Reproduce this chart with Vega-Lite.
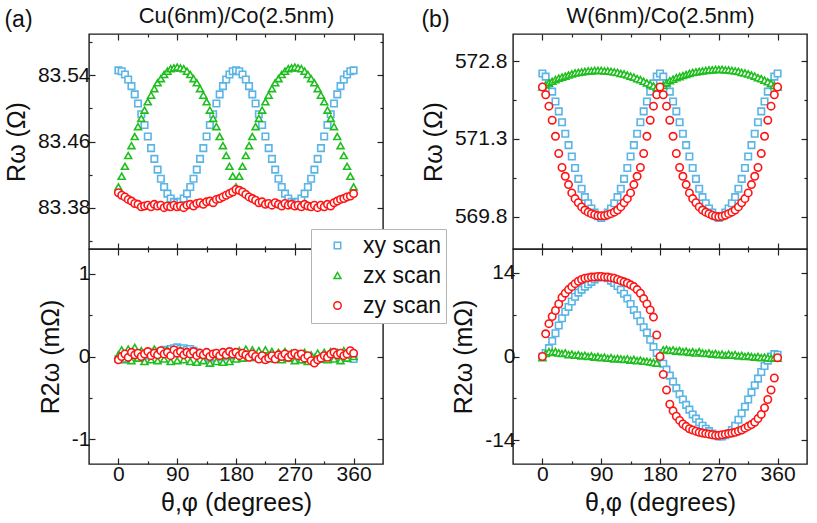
{
"$schema": "https://vega.github.io/schema/vega-lite/v6.json",
"padding": {"left": 3, "top": 3, "right": 4, "bottom": 4},
"background": "white",
"data": {"name": "d"},
"datasets": {"d": [
{"p":"a1","s":"xy scan","t":0,"v":83.546},{"p":"a1","s":"xy scan","t":5,"v":83.545},{"p":"a1","s":"xy scan","t":10,"v":83.541},{"p":"a1","s":"xy scan","t":15,"v":83.535},{"p":"a1","s":"xy scan","t":20,"v":83.527},{"p":"a1","s":"xy scan","t":25,"v":83.517},{"p":"a1","s":"xy scan","t":30,"v":83.506},{"p":"a1","s":"xy scan","t":35,"v":83.493},{"p":"a1","s":"xy scan","t":40,"v":83.480},{"p":"a1","s":"xy scan","t":45,"v":83.466},{"p":"a1","s":"xy scan","t":50,"v":83.452},{"p":"a1","s":"xy scan","t":55,"v":83.439},{"p":"a1","s":"xy scan","t":60,"v":83.426},{"p":"a1","s":"xy scan","t":65,"v":83.415},{"p":"a1","s":"xy scan","t":70,"v":83.405},{"p":"a1","s":"xy scan","t":75,"v":83.397},{"p":"a1","s":"xy scan","t":80,"v":83.391},{"p":"a1","s":"xy scan","t":85,"v":83.387},{"p":"a1","s":"xy scan","t":90,"v":83.386},{"p":"a1","s":"xy scan","t":95,"v":83.387},{"p":"a1","s":"xy scan","t":100,"v":83.391},{"p":"a1","s":"xy scan","t":105,"v":83.397},{"p":"a1","s":"xy scan","t":110,"v":83.405},{"p":"a1","s":"xy scan","t":115,"v":83.415},{"p":"a1","s":"xy scan","t":120,"v":83.426},{"p":"a1","s":"xy scan","t":125,"v":83.439},{"p":"a1","s":"xy scan","t":130,"v":83.452},{"p":"a1","s":"xy scan","t":135,"v":83.466},{"p":"a1","s":"xy scan","t":140,"v":83.480},{"p":"a1","s":"xy scan","t":145,"v":83.493},{"p":"a1","s":"xy scan","t":150,"v":83.506},{"p":"a1","s":"xy scan","t":155,"v":83.517},{"p":"a1","s":"xy scan","t":160,"v":83.527},{"p":"a1","s":"xy scan","t":165,"v":83.535},{"p":"a1","s":"xy scan","t":170,"v":83.541},{"p":"a1","s":"xy scan","t":175,"v":83.545},{"p":"a1","s":"xy scan","t":180,"v":83.546},{"p":"a1","s":"xy scan","t":185,"v":83.545},{"p":"a1","s":"xy scan","t":190,"v":83.541},{"p":"a1","s":"xy scan","t":195,"v":83.535},{"p":"a1","s":"xy scan","t":200,"v":83.527},{"p":"a1","s":"xy scan","t":205,"v":83.517},{"p":"a1","s":"xy scan","t":210,"v":83.506},{"p":"a1","s":"xy scan","t":215,"v":83.493},{"p":"a1","s":"xy scan","t":220,"v":83.480},{"p":"a1","s":"xy scan","t":225,"v":83.466},{"p":"a1","s":"xy scan","t":230,"v":83.452},{"p":"a1","s":"xy scan","t":235,"v":83.439},{"p":"a1","s":"xy scan","t":240,"v":83.426},{"p":"a1","s":"xy scan","t":245,"v":83.415},{"p":"a1","s":"xy scan","t":250,"v":83.405},{"p":"a1","s":"xy scan","t":255,"v":83.397},{"p":"a1","s":"xy scan","t":260,"v":83.391},{"p":"a1","s":"xy scan","t":265,"v":83.387},{"p":"a1","s":"xy scan","t":270,"v":83.386},{"p":"a1","s":"xy scan","t":275,"v":83.387},{"p":"a1","s":"xy scan","t":280,"v":83.391},{"p":"a1","s":"xy scan","t":285,"v":83.397},{"p":"a1","s":"xy scan","t":290,"v":83.405},{"p":"a1","s":"xy scan","t":295,"v":83.415},{"p":"a1","s":"xy scan","t":300,"v":83.426},{"p":"a1","s":"xy scan","t":305,"v":83.439},{"p":"a1","s":"xy scan","t":310,"v":83.452},{"p":"a1","s":"xy scan","t":315,"v":83.466},{"p":"a1","s":"xy scan","t":320,"v":83.480},{"p":"a1","s":"xy scan","t":325,"v":83.493},{"p":"a1","s":"xy scan","t":330,"v":83.506},{"p":"a1","s":"xy scan","t":335,"v":83.517},{"p":"a1","s":"xy scan","t":340,"v":83.527},{"p":"a1","s":"xy scan","t":345,"v":83.535},{"p":"a1","s":"xy scan","t":350,"v":83.541},{"p":"a1","s":"xy scan","t":355,"v":83.545},{"p":"a1","s":"xy scan","t":360,"v":83.546},
{"p":"a1","s":"zx scan","t":0,"v":83.405},{"p":"a1","s":"zx scan","t":5,"v":83.418},{"p":"a1","s":"zx scan","t":10,"v":83.430},{"p":"a1","s":"zx scan","t":15,"v":83.443},{"p":"a1","s":"zx scan","t":20,"v":83.455},{"p":"a1","s":"zx scan","t":25,"v":83.466},{"p":"a1","s":"zx scan","t":30,"v":83.478},{"p":"a1","s":"zx scan","t":35,"v":83.488},{"p":"a1","s":"zx scan","t":40,"v":83.498},{"p":"a1","s":"zx scan","t":45,"v":83.508},{"p":"a1","s":"zx scan","t":50,"v":83.516},{"p":"a1","s":"zx scan","t":55,"v":83.524},{"p":"a1","s":"zx scan","t":60,"v":83.531},{"p":"a1","s":"zx scan","t":65,"v":83.536},{"p":"a1","s":"zx scan","t":70,"v":83.541},{"p":"a1","s":"zx scan","t":75,"v":83.545},{"p":"a1","s":"zx scan","t":80,"v":83.548},{"p":"a1","s":"zx scan","t":85,"v":83.549},{"p":"a1","s":"zx scan","t":90,"v":83.550},{"p":"a1","s":"zx scan","t":95,"v":83.549},{"p":"a1","s":"zx scan","t":100,"v":83.548},{"p":"a1","s":"zx scan","t":105,"v":83.545},{"p":"a1","s":"zx scan","t":110,"v":83.541},{"p":"a1","s":"zx scan","t":115,"v":83.536},{"p":"a1","s":"zx scan","t":120,"v":83.531},{"p":"a1","s":"zx scan","t":125,"v":83.524},{"p":"a1","s":"zx scan","t":130,"v":83.516},{"p":"a1","s":"zx scan","t":135,"v":83.508},{"p":"a1","s":"zx scan","t":140,"v":83.498},{"p":"a1","s":"zx scan","t":145,"v":83.488},{"p":"a1","s":"zx scan","t":150,"v":83.478},{"p":"a1","s":"zx scan","t":155,"v":83.466},{"p":"a1","s":"zx scan","t":160,"v":83.455},{"p":"a1","s":"zx scan","t":165,"v":83.443},{"p":"a1","s":"zx scan","t":170,"v":83.430},{"p":"a1","s":"zx scan","t":175,"v":83.418},{"p":"a1","s":"zx scan","t":180,"v":83.405},{"p":"a1","s":"zx scan","t":185,"v":83.418},{"p":"a1","s":"zx scan","t":190,"v":83.430},{"p":"a1","s":"zx scan","t":195,"v":83.443},{"p":"a1","s":"zx scan","t":200,"v":83.455},{"p":"a1","s":"zx scan","t":205,"v":83.466},{"p":"a1","s":"zx scan","t":210,"v":83.478},{"p":"a1","s":"zx scan","t":215,"v":83.488},{"p":"a1","s":"zx scan","t":220,"v":83.498},{"p":"a1","s":"zx scan","t":225,"v":83.508},{"p":"a1","s":"zx scan","t":230,"v":83.516},{"p":"a1","s":"zx scan","t":235,"v":83.524},{"p":"a1","s":"zx scan","t":240,"v":83.531},{"p":"a1","s":"zx scan","t":245,"v":83.536},{"p":"a1","s":"zx scan","t":250,"v":83.541},{"p":"a1","s":"zx scan","t":255,"v":83.545},{"p":"a1","s":"zx scan","t":260,"v":83.548},{"p":"a1","s":"zx scan","t":265,"v":83.549},{"p":"a1","s":"zx scan","t":270,"v":83.550},{"p":"a1","s":"zx scan","t":275,"v":83.549},{"p":"a1","s":"zx scan","t":280,"v":83.548},{"p":"a1","s":"zx scan","t":285,"v":83.545},{"p":"a1","s":"zx scan","t":290,"v":83.541},{"p":"a1","s":"zx scan","t":295,"v":83.536},{"p":"a1","s":"zx scan","t":300,"v":83.531},{"p":"a1","s":"zx scan","t":305,"v":83.524},{"p":"a1","s":"zx scan","t":310,"v":83.516},{"p":"a1","s":"zx scan","t":315,"v":83.508},{"p":"a1","s":"zx scan","t":320,"v":83.498},{"p":"a1","s":"zx scan","t":325,"v":83.488},{"p":"a1","s":"zx scan","t":330,"v":83.478},{"p":"a1","s":"zx scan","t":335,"v":83.466},{"p":"a1","s":"zx scan","t":340,"v":83.455},{"p":"a1","s":"zx scan","t":345,"v":83.443},{"p":"a1","s":"zx scan","t":350,"v":83.430},{"p":"a1","s":"zx scan","t":355,"v":83.418},{"p":"a1","s":"zx scan","t":360,"v":83.405},
{"p":"a1","s":"zy scan","t":0,"v":83.398},{"p":"a1","s":"zy scan","t":5,"v":83.395},{"p":"a1","s":"zy scan","t":10,"v":83.393},{"p":"a1","s":"zy scan","t":15,"v":83.390},{"p":"a1","s":"zy scan","t":20,"v":83.388},{"p":"a1","s":"zy scan","t":25,"v":83.385},{"p":"a1","s":"zy scan","t":30,"v":83.384},{"p":"a1","s":"zy scan","t":35,"v":83.381},{"p":"a1","s":"zy scan","t":40,"v":83.382},{"p":"a1","s":"zy scan","t":45,"v":83.383},{"p":"a1","s":"zy scan","t":50,"v":83.381},{"p":"a1","s":"zy scan","t":55,"v":83.384},{"p":"a1","s":"zy scan","t":60,"v":83.382},{"p":"a1","s":"zy scan","t":65,"v":83.383},{"p":"a1","s":"zy scan","t":70,"v":83.380},{"p":"a1","s":"zy scan","t":75,"v":83.382},{"p":"a1","s":"zy scan","t":80,"v":83.381},{"p":"a1","s":"zy scan","t":85,"v":83.383},{"p":"a1","s":"zy scan","t":90,"v":83.381},{"p":"a1","s":"zy scan","t":95,"v":83.382},{"p":"a1","s":"zy scan","t":100,"v":83.380},{"p":"a1","s":"zy scan","t":105,"v":83.383},{"p":"a1","s":"zy scan","t":110,"v":83.384},{"p":"a1","s":"zy scan","t":115,"v":83.382},{"p":"a1","s":"zy scan","t":120,"v":83.385},{"p":"a1","s":"zy scan","t":125,"v":83.386},{"p":"a1","s":"zy scan","t":130,"v":83.384},{"p":"a1","s":"zy scan","t":135,"v":83.387},{"p":"a1","s":"zy scan","t":140,"v":83.388},{"p":"a1","s":"zy scan","t":145,"v":83.386},{"p":"a1","s":"zy scan","t":150,"v":83.390},{"p":"a1","s":"zy scan","t":155,"v":83.391},{"p":"a1","s":"zy scan","t":160,"v":83.393},{"p":"a1","s":"zy scan","t":165,"v":83.395},{"p":"a1","s":"zy scan","t":170,"v":83.397},{"p":"a1","s":"zy scan","t":175,"v":83.399},{"p":"a1","s":"zy scan","t":180,"v":83.402},{"p":"a1","s":"zy scan","t":185,"v":83.401},{"p":"a1","s":"zy scan","t":190,"v":83.399},{"p":"a1","s":"zy scan","t":195,"v":83.396},{"p":"a1","s":"zy scan","t":200,"v":83.393},{"p":"a1","s":"zy scan","t":205,"v":83.391},{"p":"a1","s":"zy scan","t":210,"v":83.389},{"p":"a1","s":"zy scan","t":215,"v":83.386},{"p":"a1","s":"zy scan","t":220,"v":83.387},{"p":"a1","s":"zy scan","t":225,"v":83.384},{"p":"a1","s":"zy scan","t":230,"v":83.385},{"p":"a1","s":"zy scan","t":235,"v":83.383},{"p":"a1","s":"zy scan","t":240,"v":83.386},{"p":"a1","s":"zy scan","t":245,"v":83.384},{"p":"a1","s":"zy scan","t":250,"v":83.382},{"p":"a1","s":"zy scan","t":255,"v":83.385},{"p":"a1","s":"zy scan","t":260,"v":83.383},{"p":"a1","s":"zy scan","t":265,"v":83.384},{"p":"a1","s":"zy scan","t":270,"v":83.382},{"p":"a1","s":"zy scan","t":275,"v":83.383},{"p":"a1","s":"zy scan","t":280,"v":83.381},{"p":"a1","s":"zy scan","t":285,"v":83.384},{"p":"a1","s":"zy scan","t":290,"v":83.382},{"p":"a1","s":"zy scan","t":295,"v":83.381},{"p":"a1","s":"zy scan","t":300,"v":83.383},{"p":"a1","s":"zy scan","t":305,"v":83.380},{"p":"a1","s":"zy scan","t":310,"v":83.383},{"p":"a1","s":"zy scan","t":315,"v":83.381},{"p":"a1","s":"zy scan","t":320,"v":83.384},{"p":"a1","s":"zy scan","t":325,"v":83.382},{"p":"a1","s":"zy scan","t":330,"v":83.386},{"p":"a1","s":"zy scan","t":335,"v":83.388},{"p":"a1","s":"zy scan","t":340,"v":83.390},{"p":"a1","s":"zy scan","t":345,"v":83.391},{"p":"a1","s":"zy scan","t":350,"v":83.393},{"p":"a1","s":"zy scan","t":355,"v":83.394},{"p":"a1","s":"zy scan","t":360,"v":83.397},
{"p":"a2","s":"xy scan","t":0,"v":-0.03},{"p":"a2","s":"xy scan","t":5,"v":0.02},{"p":"a2","s":"xy scan","t":10,"v":-0.04},{"p":"a2","s":"xy scan","t":15,"v":0.01},{"p":"a2","s":"xy scan","t":20,"v":-0.02},{"p":"a2","s":"xy scan","t":25,"v":0.03},{"p":"a2","s":"xy scan","t":30,"v":0.0},{"p":"a2","s":"xy scan","t":35,"v":0.02},{"p":"a2","s":"xy scan","t":40,"v":0.04},{"p":"a2","s":"xy scan","t":45,"v":0.01},{"p":"a2","s":"xy scan","t":50,"v":0.05},{"p":"a2","s":"xy scan","t":55,"v":0.03},{"p":"a2","s":"xy scan","t":60,"v":0.06},{"p":"a2","s":"xy scan","t":65,"v":0.04},{"p":"a2","s":"xy scan","t":70,"v":0.08},{"p":"a2","s":"xy scan","t":75,"v":0.07},{"p":"a2","s":"xy scan","t":80,"v":0.09},{"p":"a2","s":"xy scan","t":85,"v":0.10},{"p":"a2","s":"xy scan","t":90,"v":0.11},{"p":"a2","s":"xy scan","t":95,"v":0.09},{"p":"a2","s":"xy scan","t":100,"v":0.10},{"p":"a2","s":"xy scan","t":105,"v":0.08},{"p":"a2","s":"xy scan","t":110,"v":0.09},{"p":"a2","s":"xy scan","t":115,"v":0.07},{"p":"a2","s":"xy scan","t":120,"v":0.05},{"p":"a2","s":"xy scan","t":125,"v":0.03},{"p":"a2","s":"xy scan","t":130,"v":0.02},{"p":"a2","s":"xy scan","t":135,"v":0.0},{"p":"a2","s":"xy scan","t":140,"v":-0.02},{"p":"a2","s":"xy scan","t":145,"v":0.01},{"p":"a2","s":"xy scan","t":150,"v":-0.01},{"p":"a2","s":"xy scan","t":155,"v":0.02},{"p":"a2","s":"xy scan","t":160,"v":0.0},{"p":"a2","s":"xy scan","t":165,"v":0.03},{"p":"a2","s":"xy scan","t":170,"v":0.01},{"p":"a2","s":"xy scan","t":175,"v":0.04},{"p":"a2","s":"xy scan","t":180,"v":0.02},{"p":"a2","s":"xy scan","t":185,"v":0.0},{"p":"a2","s":"xy scan","t":190,"v":0.03},{"p":"a2","s":"xy scan","t":195,"v":0.01},{"p":"a2","s":"xy scan","t":200,"v":0.02},{"p":"a2","s":"xy scan","t":205,"v":-0.01},{"p":"a2","s":"xy scan","t":210,"v":0.01},{"p":"a2","s":"xy scan","t":215,"v":-0.02},{"p":"a2","s":"xy scan","t":220,"v":0.0},{"p":"a2","s":"xy scan","t":225,"v":-0.03},{"p":"a2","s":"xy scan","t":230,"v":-0.01},{"p":"a2","s":"xy scan","t":235,"v":0.01},{"p":"a2","s":"xy scan","t":240,"v":-0.02},{"p":"a2","s":"xy scan","t":245,"v":0.0},{"p":"a2","s":"xy scan","t":250,"v":-0.03},{"p":"a2","s":"xy scan","t":255,"v":-0.01},{"p":"a2","s":"xy scan","t":260,"v":0.02},{"p":"a2","s":"xy scan","t":265,"v":-0.02},{"p":"a2","s":"xy scan","t":270,"v":0.0},{"p":"a2","s":"xy scan","t":275,"v":-0.03},{"p":"a2","s":"xy scan","t":280,"v":-0.01},{"p":"a2","s":"xy scan","t":285,"v":-0.04},{"p":"a2","s":"xy scan","t":290,"v":-0.02},{"p":"a2","s":"xy scan","t":295,"v":-0.05},{"p":"a2","s":"xy scan","t":300,"v":-0.03},{"p":"a2","s":"xy scan","t":305,"v":-0.01},{"p":"a2","s":"xy scan","t":310,"v":-0.03},{"p":"a2","s":"xy scan","t":315,"v":0.0},{"p":"a2","s":"xy scan","t":320,"v":-0.02},{"p":"a2","s":"xy scan","t":325,"v":0.01},{"p":"a2","s":"xy scan","t":330,"v":-0.01},{"p":"a2","s":"xy scan","t":335,"v":0.02},{"p":"a2","s":"xy scan","t":340,"v":0.0},{"p":"a2","s":"xy scan","t":345,"v":0.03},{"p":"a2","s":"xy scan","t":350,"v":0.01},{"p":"a2","s":"xy scan","t":355,"v":-0.02},{"p":"a2","s":"xy scan","t":360,"v":-0.03},
{"p":"a2","s":"zx scan","t":0,"v":0.02},{"p":"a2","s":"zx scan","t":5,"v":0.08},{"p":"a2","s":"zx scan","t":10,"v":-0.03},{"p":"a2","s":"zx scan","t":15,"v":0.09},{"p":"a2","s":"zx scan","t":20,"v":-0.05},{"p":"a2","s":"zx scan","t":25,"v":0.11},{"p":"a2","s":"zx scan","t":30,"v":-0.02},{"p":"a2","s":"zx scan","t":35,"v":0.07},{"p":"a2","s":"zx scan","t":40,"v":-0.06},{"p":"a2","s":"zx scan","t":45,"v":0.05},{"p":"a2","s":"zx scan","t":50,"v":-0.04},{"p":"a2","s":"zx scan","t":55,"v":0.09},{"p":"a2","s":"zx scan","t":60,"v":-0.05},{"p":"a2","s":"zx scan","t":65,"v":0.06},{"p":"a2","s":"zx scan","t":70,"v":-0.03},{"p":"a2","s":"zx scan","t":75,"v":0.08},{"p":"a2","s":"zx scan","t":80,"v":-0.06},{"p":"a2","s":"zx scan","t":85,"v":0.04},{"p":"a2","s":"zx scan","t":90,"v":-0.05},{"p":"a2","s":"zx scan","t":95,"v":0.07},{"p":"a2","s":"zx scan","t":100,"v":-0.04},{"p":"a2","s":"zx scan","t":105,"v":0.05},{"p":"a2","s":"zx scan","t":110,"v":-0.06},{"p":"a2","s":"zx scan","t":115,"v":0.03},{"p":"a2","s":"zx scan","t":120,"v":-0.07},{"p":"a2","s":"zx scan","t":125,"v":0.04},{"p":"a2","s":"zx scan","t":130,"v":-0.05},{"p":"a2","s":"zx scan","t":135,"v":0.02},{"p":"a2","s":"zx scan","t":140,"v":-0.08},{"p":"a2","s":"zx scan","t":145,"v":0.03},{"p":"a2","s":"zx scan","t":150,"v":-0.06},{"p":"a2","s":"zx scan","t":155,"v":0.01},{"p":"a2","s":"zx scan","t":160,"v":-0.07},{"p":"a2","s":"zx scan","t":165,"v":0.02},{"p":"a2","s":"zx scan","t":170,"v":-0.06},{"p":"a2","s":"zx scan","t":175,"v":0.04},{"p":"a2","s":"zx scan","t":180,"v":-0.03},{"p":"a2","s":"zx scan","t":185,"v":0.07},{"p":"a2","s":"zx scan","t":190,"v":-0.02},{"p":"a2","s":"zx scan","t":195,"v":0.09},{"p":"a2","s":"zx scan","t":200,"v":-0.01},{"p":"a2","s":"zx scan","t":205,"v":0.08},{"p":"a2","s":"zx scan","t":210,"v":0.0},{"p":"a2","s":"zx scan","t":215,"v":0.07},{"p":"a2","s":"zx scan","t":220,"v":-0.02},{"p":"a2","s":"zx scan","t":225,"v":0.08},{"p":"a2","s":"zx scan","t":230,"v":-0.01},{"p":"a2","s":"zx scan","t":235,"v":0.06},{"p":"a2","s":"zx scan","t":240,"v":-0.03},{"p":"a2","s":"zx scan","t":245,"v":0.05},{"p":"a2","s":"zx scan","t":250,"v":-0.04},{"p":"a2","s":"zx scan","t":255,"v":0.06},{"p":"a2","s":"zx scan","t":260,"v":-0.02},{"p":"a2","s":"zx scan","t":265,"v":0.04},{"p":"a2","s":"zx scan","t":270,"v":-0.05},{"p":"a2","s":"zx scan","t":275,"v":0.03},{"p":"a2","s":"zx scan","t":280,"v":-0.04},{"p":"a2","s":"zx scan","t":285,"v":0.05},{"p":"a2","s":"zx scan","t":290,"v":-0.06},{"p":"a2","s":"zx scan","t":295,"v":0.02},{"p":"a2","s":"zx scan","t":300,"v":-0.05},{"p":"a2","s":"zx scan","t":305,"v":0.04},{"p":"a2","s":"zx scan","t":310,"v":-0.03},{"p":"a2","s":"zx scan","t":315,"v":0.05},{"p":"a2","s":"zx scan","t":320,"v":-0.04},{"p":"a2","s":"zx scan","t":325,"v":0.06},{"p":"a2","s":"zx scan","t":330,"v":-0.03},{"p":"a2","s":"zx scan","t":335,"v":0.05},{"p":"a2","s":"zx scan","t":340,"v":-0.05},{"p":"a2","s":"zx scan","t":345,"v":0.07},{"p":"a2","s":"zx scan","t":350,"v":-0.02},{"p":"a2","s":"zx scan","t":355,"v":0.06},{"p":"a2","s":"zx scan","t":360,"v":0.0},
{"p":"a2","s":"zy scan","t":0,"v":-0.04},{"p":"a2","s":"zy scan","t":5,"v":0.0},{"p":"a2","s":"zy scan","t":10,"v":0.03},{"p":"a2","s":"zy scan","t":15,"v":-0.01},{"p":"a2","s":"zy scan","t":20,"v":0.05},{"p":"a2","s":"zy scan","t":25,"v":0.02},{"p":"a2","s":"zy scan","t":30,"v":0.04},{"p":"a2","s":"zy scan","t":35,"v":0.0},{"p":"a2","s":"zy scan","t":40,"v":0.03},{"p":"a2","s":"zy scan","t":45,"v":0.06},{"p":"a2","s":"zy scan","t":50,"v":0.01},{"p":"a2","s":"zy scan","t":55,"v":0.04},{"p":"a2","s":"zy scan","t":60,"v":0.02},{"p":"a2","s":"zy scan","t":65,"v":0.07},{"p":"a2","s":"zy scan","t":70,"v":0.03},{"p":"a2","s":"zy scan","t":75,"v":0.05},{"p":"a2","s":"zy scan","t":80,"v":0.01},{"p":"a2","s":"zy scan","t":85,"v":0.08},{"p":"a2","s":"zy scan","t":90,"v":0.04},{"p":"a2","s":"zy scan","t":95,"v":0.06},{"p":"a2","s":"zy scan","t":100,"v":0.02},{"p":"a2","s":"zy scan","t":105,"v":0.05},{"p":"a2","s":"zy scan","t":110,"v":0.03},{"p":"a2","s":"zy scan","t":115,"v":0.06},{"p":"a2","s":"zy scan","t":120,"v":0.01},{"p":"a2","s":"zy scan","t":125,"v":0.04},{"p":"a2","s":"zy scan","t":130,"v":0.02},{"p":"a2","s":"zy scan","t":135,"v":0.05},{"p":"a2","s":"zy scan","t":140,"v":0.0},{"p":"a2","s":"zy scan","t":145,"v":0.03},{"p":"a2","s":"zy scan","t":150,"v":0.04},{"p":"a2","s":"zy scan","t":155,"v":0.01},{"p":"a2","s":"zy scan","t":160,"v":0.05},{"p":"a2","s":"zy scan","t":165,"v":0.02},{"p":"a2","s":"zy scan","t":170,"v":0.06},{"p":"a2","s":"zy scan","t":175,"v":0.03},{"p":"a2","s":"zy scan","t":180,"v":0.05},{"p":"a2","s":"zy scan","t":185,"v":0.01},{"p":"a2","s":"zy scan","t":190,"v":0.04},{"p":"a2","s":"zy scan","t":195,"v":0.02},{"p":"a2","s":"zy scan","t":200,"v":-0.01},{"p":"a2","s":"zy scan","t":205,"v":0.03},{"p":"a2","s":"zy scan","t":210,"v":0.0},{"p":"a2","s":"zy scan","t":215,"v":-0.03},{"p":"a2","s":"zy scan","t":220,"v":0.01},{"p":"a2","s":"zy scan","t":225,"v":-0.04},{"p":"a2","s":"zy scan","t":230,"v":-0.02},{"p":"a2","s":"zy scan","t":235,"v":0.01},{"p":"a2","s":"zy scan","t":240,"v":-0.03},{"p":"a2","s":"zy scan","t":245,"v":0.02},{"p":"a2","s":"zy scan","t":250,"v":0.0},{"p":"a2","s":"zy scan","t":255,"v":0.03},{"p":"a2","s":"zy scan","t":260,"v":-0.01},{"p":"a2","s":"zy scan","t":265,"v":0.02},{"p":"a2","s":"zy scan","t":270,"v":0.04},{"p":"a2","s":"zy scan","t":275,"v":0.01},{"p":"a2","s":"zy scan","t":280,"v":0.03},{"p":"a2","s":"zy scan","t":285,"v":-0.02},{"p":"a2","s":"zy scan","t":290,"v":0.01},{"p":"a2","s":"zy scan","t":295,"v":-0.05},{"p":"a2","s":"zy scan","t":300,"v":-0.08},{"p":"a2","s":"zy scan","t":305,"v":-0.04},{"p":"a2","s":"zy scan","t":310,"v":-0.02},{"p":"a2","s":"zy scan","t":315,"v":0.01},{"p":"a2","s":"zy scan","t":320,"v":-0.01},{"p":"a2","s":"zy scan","t":325,"v":0.03},{"p":"a2","s":"zy scan","t":330,"v":0.05},{"p":"a2","s":"zy scan","t":335,"v":0.02},{"p":"a2","s":"zy scan","t":340,"v":0.04},{"p":"a2","s":"zy scan","t":345,"v":0.01},{"p":"a2","s":"zy scan","t":350,"v":0.03},{"p":"a2","s":"zy scan","t":355,"v":0.07},{"p":"a2","s":"zy scan","t":360,"v":0.04},
{"p":"b1","s":"xy scan","t":0,"v":572.56},{"p":"b1","s":"xy scan","t":5,"v":572.50},{"p":"b1","s":"xy scan","t":10,"v":572.37},{"p":"b1","s":"xy scan","t":15,"v":572.21},{"p":"b1","s":"xy scan","t":20,"v":572.02},{"p":"b1","s":"xy scan","t":25,"v":571.83},{"p":"b1","s":"xy scan","t":30,"v":571.62},{"p":"b1","s":"xy scan","t":35,"v":571.40},{"p":"b1","s":"xy scan","t":40,"v":571.18},{"p":"b1","s":"xy scan","t":45,"v":570.96},{"p":"b1","s":"xy scan","t":50,"v":570.74},{"p":"b1","s":"xy scan","t":55,"v":570.53},{"p":"b1","s":"xy scan","t":60,"v":570.34},{"p":"b1","s":"xy scan","t":65,"v":570.18},{"p":"b1","s":"xy scan","t":70,"v":570.06},{"p":"b1","s":"xy scan","t":75,"v":569.96},{"p":"b1","s":"xy scan","t":80,"v":569.88},{"p":"b1","s":"xy scan","t":85,"v":569.81},{"p":"b1","s":"xy scan","t":90,"v":569.78},{"p":"b1","s":"xy scan","t":95,"v":569.81},{"p":"b1","s":"xy scan","t":100,"v":569.88},{"p":"b1","s":"xy scan","t":105,"v":569.96},{"p":"b1","s":"xy scan","t":110,"v":570.06},{"p":"b1","s":"xy scan","t":115,"v":570.18},{"p":"b1","s":"xy scan","t":120,"v":570.34},{"p":"b1","s":"xy scan","t":125,"v":570.53},{"p":"b1","s":"xy scan","t":130,"v":570.74},{"p":"b1","s":"xy scan","t":135,"v":570.96},{"p":"b1","s":"xy scan","t":140,"v":571.18},{"p":"b1","s":"xy scan","t":145,"v":571.40},{"p":"b1","s":"xy scan","t":150,"v":571.62},{"p":"b1","s":"xy scan","t":155,"v":571.83},{"p":"b1","s":"xy scan","t":160,"v":572.02},{"p":"b1","s":"xy scan","t":165,"v":572.21},{"p":"b1","s":"xy scan","t":170,"v":572.37},{"p":"b1","s":"xy scan","t":175,"v":572.50},{"p":"b1","s":"xy scan","t":180,"v":572.56},{"p":"b1","s":"xy scan","t":185,"v":572.50},{"p":"b1","s":"xy scan","t":190,"v":572.37},{"p":"b1","s":"xy scan","t":195,"v":572.21},{"p":"b1","s":"xy scan","t":200,"v":572.02},{"p":"b1","s":"xy scan","t":205,"v":571.83},{"p":"b1","s":"xy scan","t":210,"v":571.62},{"p":"b1","s":"xy scan","t":215,"v":571.40},{"p":"b1","s":"xy scan","t":220,"v":571.18},{"p":"b1","s":"xy scan","t":225,"v":570.96},{"p":"b1","s":"xy scan","t":230,"v":570.74},{"p":"b1","s":"xy scan","t":235,"v":570.53},{"p":"b1","s":"xy scan","t":240,"v":570.34},{"p":"b1","s":"xy scan","t":245,"v":570.18},{"p":"b1","s":"xy scan","t":250,"v":570.06},{"p":"b1","s":"xy scan","t":255,"v":569.96},{"p":"b1","s":"xy scan","t":260,"v":569.88},{"p":"b1","s":"xy scan","t":265,"v":569.81},{"p":"b1","s":"xy scan","t":270,"v":569.78},{"p":"b1","s":"xy scan","t":275,"v":569.81},{"p":"b1","s":"xy scan","t":280,"v":569.88},{"p":"b1","s":"xy scan","t":285,"v":569.96},{"p":"b1","s":"xy scan","t":290,"v":570.06},{"p":"b1","s":"xy scan","t":295,"v":570.18},{"p":"b1","s":"xy scan","t":300,"v":570.34},{"p":"b1","s":"xy scan","t":305,"v":570.53},{"p":"b1","s":"xy scan","t":310,"v":570.74},{"p":"b1","s":"xy scan","t":315,"v":570.96},{"p":"b1","s":"xy scan","t":320,"v":571.18},{"p":"b1","s":"xy scan","t":325,"v":571.40},{"p":"b1","s":"xy scan","t":330,"v":571.62},{"p":"b1","s":"xy scan","t":335,"v":571.83},{"p":"b1","s":"xy scan","t":340,"v":572.02},{"p":"b1","s":"xy scan","t":345,"v":572.21},{"p":"b1","s":"xy scan","t":350,"v":572.37},{"p":"b1","s":"xy scan","t":355,"v":572.50},{"p":"b1","s":"xy scan","t":360,"v":572.56},
{"p":"b1","s":"zx scan","t":0,"v":572.30},{"p":"b1","s":"zx scan","t":5,"v":572.34},{"p":"b1","s":"zx scan","t":10,"v":572.38},{"p":"b1","s":"zx scan","t":15,"v":572.41},{"p":"b1","s":"zx scan","t":20,"v":572.44},{"p":"b1","s":"zx scan","t":25,"v":572.47},{"p":"b1","s":"zx scan","t":30,"v":572.49},{"p":"b1","s":"zx scan","t":35,"v":572.51},{"p":"b1","s":"zx scan","t":40,"v":572.53},{"p":"b1","s":"zx scan","t":45,"v":572.55},{"p":"b1","s":"zx scan","t":50,"v":572.57},{"p":"b1","s":"zx scan","t":55,"v":572.58},{"p":"b1","s":"zx scan","t":60,"v":572.59},{"p":"b1","s":"zx scan","t":65,"v":572.60},{"p":"b1","s":"zx scan","t":70,"v":572.61},{"p":"b1","s":"zx scan","t":75,"v":572.61},{"p":"b1","s":"zx scan","t":80,"v":572.62},{"p":"b1","s":"zx scan","t":85,"v":572.62},{"p":"b1","s":"zx scan","t":90,"v":572.62},{"p":"b1","s":"zx scan","t":95,"v":572.61},{"p":"b1","s":"zx scan","t":100,"v":572.61},{"p":"b1","s":"zx scan","t":105,"v":572.60},{"p":"b1","s":"zx scan","t":110,"v":572.59},{"p":"b1","s":"zx scan","t":115,"v":572.58},{"p":"b1","s":"zx scan","t":120,"v":572.56},{"p":"b1","s":"zx scan","t":125,"v":572.55},{"p":"b1","s":"zx scan","t":130,"v":572.53},{"p":"b1","s":"zx scan","t":135,"v":572.51},{"p":"b1","s":"zx scan","t":140,"v":572.49},{"p":"b1","s":"zx scan","t":145,"v":572.46},{"p":"b1","s":"zx scan","t":150,"v":572.44},{"p":"b1","s":"zx scan","t":155,"v":572.41},{"p":"b1","s":"zx scan","t":160,"v":572.38},{"p":"b1","s":"zx scan","t":165,"v":572.35},{"p":"b1","s":"zx scan","t":170,"v":572.32},{"p":"b1","s":"zx scan","t":175,"v":572.29},{"p":"b1","s":"zx scan","t":180,"v":572.26},{"p":"b1","s":"zx scan","t":185,"v":572.33},{"p":"b1","s":"zx scan","t":190,"v":572.38},{"p":"b1","s":"zx scan","t":195,"v":572.42},{"p":"b1","s":"zx scan","t":200,"v":572.45},{"p":"b1","s":"zx scan","t":205,"v":572.48},{"p":"b1","s":"zx scan","t":210,"v":572.50},{"p":"b1","s":"zx scan","t":215,"v":572.52},{"p":"b1","s":"zx scan","t":220,"v":572.54},{"p":"b1","s":"zx scan","t":225,"v":572.56},{"p":"b1","s":"zx scan","t":230,"v":572.58},{"p":"b1","s":"zx scan","t":235,"v":572.59},{"p":"b1","s":"zx scan","t":240,"v":572.60},{"p":"b1","s":"zx scan","t":245,"v":572.61},{"p":"b1","s":"zx scan","t":250,"v":572.62},{"p":"b1","s":"zx scan","t":255,"v":572.63},{"p":"b1","s":"zx scan","t":260,"v":572.63},{"p":"b1","s":"zx scan","t":265,"v":572.64},{"p":"b1","s":"zx scan","t":270,"v":572.64},{"p":"b1","s":"zx scan","t":275,"v":572.64},{"p":"b1","s":"zx scan","t":280,"v":572.63},{"p":"b1","s":"zx scan","t":285,"v":572.63},{"p":"b1","s":"zx scan","t":290,"v":572.62},{"p":"b1","s":"zx scan","t":295,"v":572.61},{"p":"b1","s":"zx scan","t":300,"v":572.60},{"p":"b1","s":"zx scan","t":305,"v":572.58},{"p":"b1","s":"zx scan","t":310,"v":572.57},{"p":"b1","s":"zx scan","t":315,"v":572.55},{"p":"b1","s":"zx scan","t":320,"v":572.53},{"p":"b1","s":"zx scan","t":325,"v":572.51},{"p":"b1","s":"zx scan","t":330,"v":572.48},{"p":"b1","s":"zx scan","t":335,"v":572.46},{"p":"b1","s":"zx scan","t":340,"v":572.43},{"p":"b1","s":"zx scan","t":345,"v":572.40},{"p":"b1","s":"zx scan","t":350,"v":572.37},{"p":"b1","s":"zx scan","t":355,"v":572.33},{"p":"b1","s":"zx scan","t":360,"v":572.30},
{"p":"b1","s":"zy scan","t":0,"v":572.30},{"p":"b1","s":"zy scan","t":5,"v":572.15},{"p":"b1","s":"zy scan","t":10,"v":571.93},{"p":"b1","s":"zy scan","t":15,"v":571.66},{"p":"b1","s":"zy scan","t":20,"v":571.35},{"p":"b1","s":"zy scan","t":25,"v":571.02},{"p":"b1","s":"zy scan","t":30,"v":570.75},{"p":"b1","s":"zy scan","t":35,"v":570.58},{"p":"b1","s":"zy scan","t":40,"v":570.42},{"p":"b1","s":"zy scan","t":45,"v":570.26},{"p":"b1","s":"zy scan","t":50,"v":570.15},{"p":"b1","s":"zy scan","t":55,"v":570.07},{"p":"b1","s":"zy scan","t":60,"v":569.99},{"p":"b1","s":"zy scan","t":65,"v":569.93},{"p":"b1","s":"zy scan","t":70,"v":569.89},{"p":"b1","s":"zy scan","t":75,"v":569.86},{"p":"b1","s":"zy scan","t":80,"v":569.84},{"p":"b1","s":"zy scan","t":85,"v":569.82},{"p":"b1","s":"zy scan","t":90,"v":569.82},{"p":"b1","s":"zy scan","t":95,"v":569.82},{"p":"b1","s":"zy scan","t":100,"v":569.84},{"p":"b1","s":"zy scan","t":105,"v":569.86},{"p":"b1","s":"zy scan","t":110,"v":569.89},{"p":"b1","s":"zy scan","t":115,"v":569.93},{"p":"b1","s":"zy scan","t":120,"v":569.99},{"p":"b1","s":"zy scan","t":125,"v":570.07},{"p":"b1","s":"zy scan","t":130,"v":570.15},{"p":"b1","s":"zy scan","t":135,"v":570.26},{"p":"b1","s":"zy scan","t":140,"v":570.42},{"p":"b1","s":"zy scan","t":145,"v":570.58},{"p":"b1","s":"zy scan","t":150,"v":570.75},{"p":"b1","s":"zy scan","t":155,"v":571.02},{"p":"b1","s":"zy scan","t":160,"v":571.35},{"p":"b1","s":"zy scan","t":165,"v":571.66},{"p":"b1","s":"zy scan","t":170,"v":571.93},{"p":"b1","s":"zy scan","t":175,"v":572.15},{"p":"b1","s":"zy scan","t":180,"v":572.30},{"p":"b1","s":"zy scan","t":185,"v":572.15},{"p":"b1","s":"zy scan","t":190,"v":571.93},{"p":"b1","s":"zy scan","t":195,"v":571.66},{"p":"b1","s":"zy scan","t":200,"v":571.35},{"p":"b1","s":"zy scan","t":205,"v":571.02},{"p":"b1","s":"zy scan","t":210,"v":570.75},{"p":"b1","s":"zy scan","t":215,"v":570.58},{"p":"b1","s":"zy scan","t":220,"v":570.42},{"p":"b1","s":"zy scan","t":225,"v":570.26},{"p":"b1","s":"zy scan","t":230,"v":570.15},{"p":"b1","s":"zy scan","t":235,"v":570.07},{"p":"b1","s":"zy scan","t":240,"v":569.99},{"p":"b1","s":"zy scan","t":245,"v":569.93},{"p":"b1","s":"zy scan","t":250,"v":569.89},{"p":"b1","s":"zy scan","t":255,"v":569.86},{"p":"b1","s":"zy scan","t":260,"v":569.83},{"p":"b1","s":"zy scan","t":265,"v":569.81},{"p":"b1","s":"zy scan","t":270,"v":569.80},{"p":"b1","s":"zy scan","t":275,"v":569.81},{"p":"b1","s":"zy scan","t":280,"v":569.83},{"p":"b1","s":"zy scan","t":285,"v":569.86},{"p":"b1","s":"zy scan","t":290,"v":569.89},{"p":"b1","s":"zy scan","t":295,"v":569.93},{"p":"b1","s":"zy scan","t":300,"v":569.99},{"p":"b1","s":"zy scan","t":305,"v":570.07},{"p":"b1","s":"zy scan","t":310,"v":570.15},{"p":"b1","s":"zy scan","t":315,"v":570.26},{"p":"b1","s":"zy scan","t":320,"v":570.42},{"p":"b1","s":"zy scan","t":325,"v":570.58},{"p":"b1","s":"zy scan","t":330,"v":570.75},{"p":"b1","s":"zy scan","t":335,"v":571.02},{"p":"b1","s":"zy scan","t":340,"v":571.35},{"p":"b1","s":"zy scan","t":345,"v":571.66},{"p":"b1","s":"zy scan","t":350,"v":571.93},{"p":"b1","s":"zy scan","t":355,"v":572.15},{"p":"b1","s":"zy scan","t":360,"v":572.30},
{"p":"b2","s":"xy scan","t":0,"v":0},{"p":"b2","s":"xy scan","t":5,"v":0.6},{"p":"b2","s":"xy scan","t":10,"v":1.4},{"p":"b2","s":"xy scan","t":15,"v":2.6},{"p":"b2","s":"xy scan","t":20,"v":3.9},{"p":"b2","s":"xy scan","t":25,"v":5.2},{"p":"b2","s":"xy scan","t":30,"v":6.4},{"p":"b2","s":"xy scan","t":35,"v":7.5},{"p":"b2","s":"xy scan","t":40,"v":8.3},{"p":"b2","s":"xy scan","t":45,"v":9.2},{"p":"b2","s":"xy scan","t":50,"v":10.0},{"p":"b2","s":"xy scan","t":55,"v":10.7},{"p":"b2","s":"xy scan","t":60,"v":11.2},{"p":"b2","s":"xy scan","t":65,"v":11.7},{"p":"b2","s":"xy scan","t":70,"v":12.1},{"p":"b2","s":"xy scan","t":75,"v":12.5},{"p":"b2","s":"xy scan","t":80,"v":12.9},{"p":"b2","s":"xy scan","t":85,"v":13.2},{"p":"b2","s":"xy scan","t":90,"v":13.3},{"p":"b2","s":"xy scan","t":95,"v":13.3},{"p":"b2","s":"xy scan","t":100,"v":13.1},{"p":"b2","s":"xy scan","t":105,"v":12.7},{"p":"b2","s":"xy scan","t":110,"v":12.3},{"p":"b2","s":"xy scan","t":115,"v":11.8},{"p":"b2","s":"xy scan","t":120,"v":11.2},{"p":"b2","s":"xy scan","t":125,"v":10.5},{"p":"b2","s":"xy scan","t":130,"v":9.7},{"p":"b2","s":"xy scan","t":135,"v":8.8},{"p":"b2","s":"xy scan","t":140,"v":7.8},{"p":"b2","s":"xy scan","t":145,"v":6.9},{"p":"b2","s":"xy scan","t":150,"v":5.9},{"p":"b2","s":"xy scan","t":155,"v":4.9},{"p":"b2","s":"xy scan","t":160,"v":4.0},{"p":"b2","s":"xy scan","t":165,"v":2.8},{"p":"b2","s":"xy scan","t":170,"v":1.6},{"p":"b2","s":"xy scan","t":175,"v":0.6},{"p":"b2","s":"xy scan","t":180,"v":-0.3},{"p":"b2","s":"xy scan","t":185,"v":-1.2},{"p":"b2","s":"xy scan","t":190,"v":-2.2},{"p":"b2","s":"xy scan","t":195,"v":-3.2},{"p":"b2","s":"xy scan","t":200,"v":-4.2},{"p":"b2","s":"xy scan","t":205,"v":-5.3},{"p":"b2","s":"xy scan","t":210,"v":-6.3},{"p":"b2","s":"xy scan","t":215,"v":-7.2},{"p":"b2","s":"xy scan","t":220,"v":-8.1},{"p":"b2","s":"xy scan","t":225,"v":-8.9},{"p":"b2","s":"xy scan","t":230,"v":-9.7},{"p":"b2","s":"xy scan","t":235,"v":-10.4},{"p":"b2","s":"xy scan","t":240,"v":-11.0},{"p":"b2","s":"xy scan","t":245,"v":-11.6},{"p":"b2","s":"xy scan","t":250,"v":-12.1},{"p":"b2","s":"xy scan","t":255,"v":-12.5},{"p":"b2","s":"xy scan","t":260,"v":-12.9},{"p":"b2","s":"xy scan","t":265,"v":-13.2},{"p":"b2","s":"xy scan","t":270,"v":-13.4},{"p":"b2","s":"xy scan","t":275,"v":-13.4},{"p":"b2","s":"xy scan","t":280,"v":-13.2},{"p":"b2","s":"xy scan","t":285,"v":-12.9},{"p":"b2","s":"xy scan","t":290,"v":-12.3},{"p":"b2","s":"xy scan","t":295,"v":-11.6},{"p":"b2","s":"xy scan","t":300,"v":-10.6},{"p":"b2","s":"xy scan","t":305,"v":-9.5},{"p":"b2","s":"xy scan","t":310,"v":-8.4},{"p":"b2","s":"xy scan","t":315,"v":-7.2},{"p":"b2","s":"xy scan","t":320,"v":-6.0},{"p":"b2","s":"xy scan","t":325,"v":-4.8},{"p":"b2","s":"xy scan","t":330,"v":-3.7},{"p":"b2","s":"xy scan","t":335,"v":-2.6},{"p":"b2","s":"xy scan","t":340,"v":-1.6},{"p":"b2","s":"xy scan","t":345,"v":-0.7},{"p":"b2","s":"xy scan","t":350,"v":0.0},{"p":"b2","s":"xy scan","t":355,"v":0.4},{"p":"b2","s":"xy scan","t":360,"v":0.3},
{"p":"b2","s":"zx scan","t":0,"v":-0.2},{"p":"b2","s":"zx scan","t":5,"v":0.5},{"p":"b2","s":"zx scan","t":10,"v":0.8},{"p":"b2","s":"zx scan","t":15,"v":0.7},{"p":"b2","s":"zx scan","t":20,"v":0.8},{"p":"b2","s":"zx scan","t":25,"v":0.6},{"p":"b2","s":"zx scan","t":30,"v":0.5},{"p":"b2","s":"zx scan","t":35,"v":0.6},{"p":"b2","s":"zx scan","t":40,"v":0.3},{"p":"b2","s":"zx scan","t":45,"v":0.4},{"p":"b2","s":"zx scan","t":50,"v":0.2},{"p":"b2","s":"zx scan","t":55,"v":0.3},{"p":"b2","s":"zx scan","t":60,"v":0.1},{"p":"b2","s":"zx scan","t":65,"v":0.2},{"p":"b2","s":"zx scan","t":70,"v":0.0},{"p":"b2","s":"zx scan","t":75,"v":0.1},{"p":"b2","s":"zx scan","t":80,"v":-0.1},{"p":"b2","s":"zx scan","t":85,"v":0.0},{"p":"b2","s":"zx scan","t":90,"v":-0.2},{"p":"b2","s":"zx scan","t":95,"v":-0.1},{"p":"b2","s":"zx scan","t":100,"v":-0.3},{"p":"b2","s":"zx scan","t":105,"v":-0.2},{"p":"b2","s":"zx scan","t":110,"v":-0.4},{"p":"b2","s":"zx scan","t":115,"v":-0.3},{"p":"b2","s":"zx scan","t":120,"v":-0.4},{"p":"b2","s":"zx scan","t":125,"v":-0.5},{"p":"b2","s":"zx scan","t":130,"v":-0.4},{"p":"b2","s":"zx scan","t":135,"v":-0.6},{"p":"b2","s":"zx scan","t":140,"v":-0.5},{"p":"b2","s":"zx scan","t":145,"v":-0.7},{"p":"b2","s":"zx scan","t":150,"v":-0.6},{"p":"b2","s":"zx scan","t":155,"v":-0.8},{"p":"b2","s":"zx scan","t":160,"v":-0.8},{"p":"b2","s":"zx scan","t":165,"v":-0.9},{"p":"b2","s":"zx scan","t":170,"v":-1.0},{"p":"b2","s":"zx scan","t":175,"v":-1.1},{"p":"b2","s":"zx scan","t":180,"v":0.2},{"p":"b2","s":"zx scan","t":185,"v":1.1},{"p":"b2","s":"zx scan","t":190,"v":1.2},{"p":"b2","s":"zx scan","t":195,"v":1.0},{"p":"b2","s":"zx scan","t":200,"v":1.1},{"p":"b2","s":"zx scan","t":205,"v":0.9},{"p":"b2","s":"zx scan","t":210,"v":1.0},{"p":"b2","s":"zx scan","t":215,"v":0.8},{"p":"b2","s":"zx scan","t":220,"v":0.9},{"p":"b2","s":"zx scan","t":225,"v":0.7},{"p":"b2","s":"zx scan","t":230,"v":0.8},{"p":"b2","s":"zx scan","t":235,"v":0.6},{"p":"b2","s":"zx scan","t":240,"v":0.8},{"p":"b2","s":"zx scan","t":245,"v":0.6},{"p":"b2","s":"zx scan","t":250,"v":0.5},{"p":"b2","s":"zx scan","t":255,"v":0.6},{"p":"b2","s":"zx scan","t":260,"v":0.4},{"p":"b2","s":"zx scan","t":265,"v":0.5},{"p":"b2","s":"zx scan","t":270,"v":0.3},{"p":"b2","s":"zx scan","t":275,"v":0.4},{"p":"b2","s":"zx scan","t":280,"v":0.2},{"p":"b2","s":"zx scan","t":285,"v":0.4},{"p":"b2","s":"zx scan","t":290,"v":0.2},{"p":"b2","s":"zx scan","t":295,"v":0.3},{"p":"b2","s":"zx scan","t":300,"v":0.1},{"p":"b2","s":"zx scan","t":305,"v":0.2},{"p":"b2","s":"zx scan","t":310,"v":0.0},{"p":"b2","s":"zx scan","t":315,"v":0.1},{"p":"b2","s":"zx scan","t":320,"v":0.0},{"p":"b2","s":"zx scan","t":325,"v":-0.1},{"p":"b2","s":"zx scan","t":330,"v":0.0},{"p":"b2","s":"zx scan","t":335,"v":-0.2},{"p":"b2","s":"zx scan","t":340,"v":-0.1},{"p":"b2","s":"zx scan","t":345,"v":-0.2},{"p":"b2","s":"zx scan","t":350,"v":-0.3},{"p":"b2","s":"zx scan","t":355,"v":-0.2},{"p":"b2","s":"zx scan","t":360,"v":-0.3},
{"p":"b2","s":"zy scan","t":0,"v":0},{"p":"b2","s":"zy scan","t":5,"v":3.8},{"p":"b2","s":"zy scan","t":10,"v":5.5},{"p":"b2","s":"zy scan","t":15,"v":6.7},{"p":"b2","s":"zy scan","t":20,"v":7.7},{"p":"b2","s":"zy scan","t":25,"v":8.8},{"p":"b2","s":"zy scan","t":30,"v":9.9},{"p":"b2","s":"zy scan","t":35,"v":10.6},{"p":"b2","s":"zy scan","t":40,"v":11.2},{"p":"b2","s":"zy scan","t":45,"v":11.7},{"p":"b2","s":"zy scan","t":50,"v":12.2},{"p":"b2","s":"zy scan","t":55,"v":12.6},{"p":"b2","s":"zy scan","t":60,"v":12.9},{"p":"b2","s":"zy scan","t":65,"v":13.1},{"p":"b2","s":"zy scan","t":70,"v":13.2},{"p":"b2","s":"zy scan","t":75,"v":13.3},{"p":"b2","s":"zy scan","t":80,"v":13.3},{"p":"b2","s":"zy scan","t":85,"v":13.4},{"p":"b2","s":"zy scan","t":90,"v":13.4},{"p":"b2","s":"zy scan","t":95,"v":13.3},{"p":"b2","s":"zy scan","t":100,"v":13.3},{"p":"b2","s":"zy scan","t":105,"v":13.2},{"p":"b2","s":"zy scan","t":110,"v":13.1},{"p":"b2","s":"zy scan","t":115,"v":12.9},{"p":"b2","s":"zy scan","t":120,"v":12.7},{"p":"b2","s":"zy scan","t":125,"v":12.5},{"p":"b2","s":"zy scan","t":130,"v":12.3},{"p":"b2","s":"zy scan","t":135,"v":12.0},{"p":"b2","s":"zy scan","t":140,"v":11.7},{"p":"b2","s":"zy scan","t":145,"v":11.2},{"p":"b2","s":"zy scan","t":150,"v":10.6},{"p":"b2","s":"zy scan","t":155,"v":9.7},{"p":"b2","s":"zy scan","t":160,"v":8.8},{"p":"b2","s":"zy scan","t":165,"v":7.8},{"p":"b2","s":"zy scan","t":170,"v":6.6},{"p":"b2","s":"zy scan","t":175,"v":3.6},{"p":"b2","s":"zy scan","t":180,"v":0},{"p":"b2","s":"zy scan","t":185,"v":-3.0},{"p":"b2","s":"zy scan","t":190,"v":-5.6},{"p":"b2","s":"zy scan","t":195,"v":-8.0},{"p":"b2","s":"zy scan","t":200,"v":-9.1},{"p":"b2","s":"zy scan","t":205,"v":-10.0},{"p":"b2","s":"zy scan","t":210,"v":-10.7},{"p":"b2","s":"zy scan","t":215,"v":-11.3},{"p":"b2","s":"zy scan","t":220,"v":-11.7},{"p":"b2","s":"zy scan","t":225,"v":-12.1},{"p":"b2","s":"zy scan","t":230,"v":-12.3},{"p":"b2","s":"zy scan","t":235,"v":-12.5},{"p":"b2","s":"zy scan","t":240,"v":-12.7},{"p":"b2","s":"zy scan","t":245,"v":-12.8},{"p":"b2","s":"zy scan","t":250,"v":-12.9},{"p":"b2","s":"zy scan","t":255,"v":-13.0},{"p":"b2","s":"zy scan","t":260,"v":-13.1},{"p":"b2","s":"zy scan","t":265,"v":-13.2},{"p":"b2","s":"zy scan","t":270,"v":-13.2},{"p":"b2","s":"zy scan","t":275,"v":-13.1},{"p":"b2","s":"zy scan","t":280,"v":-13.0},{"p":"b2","s":"zy scan","t":285,"v":-12.9},{"p":"b2","s":"zy scan","t":290,"v":-12.8},{"p":"b2","s":"zy scan","t":295,"v":-12.7},{"p":"b2","s":"zy scan","t":300,"v":-12.5},{"p":"b2","s":"zy scan","t":305,"v":-12.3},{"p":"b2","s":"zy scan","t":310,"v":-12.0},{"p":"b2","s":"zy scan","t":315,"v":-11.7},{"p":"b2","s":"zy scan","t":320,"v":-11.4},{"p":"b2","s":"zy scan","t":325,"v":-11.0},{"p":"b2","s":"zy scan","t":330,"v":-10.4},{"p":"b2","s":"zy scan","t":335,"v":-9.7},{"p":"b2","s":"zy scan","t":340,"v":-8.6},{"p":"b2","s":"zy scan","t":345,"v":-7.2},{"p":"b2","s":"zy scan","t":350,"v":-5.6},{"p":"b2","s":"zy scan","t":355,"v":-3.6},{"p":"b2","s":"zy scan","t":360,"v":-0.2}
]},
"columns": 2,
"bounds": "flush",
"spacing": {"row": 0, "column": 130},
"resolve": {"scale": {"stroke": "shared", "shape": "shared", "size": "shared"}, "legend": {"stroke": "independent", "shape": "independent", "size": "independent"}},
"concat": [
  {"width": 294, "height": 215,
   "title": {"text": "(a)", "anchor": "start", "frame": "bounds", "offset": -28, "fontSize": 23},
   "transform": [{"filter": "datum.p == 'a1'"}],
   "layer": [
    {"mark": {"type": "point", "filled": true, "fill": "white", "opacity": 1, "strokeWidth": 1.6},
     "encoding": {
      "x": {"field": "t", "type": "quantitative", "scale": {"domain": [-45, 405], "nice": false, "zero": false}, "axis": {"orient": "bottom", "values": [0,45,90,135,180,225,270,315,360], "labels": false, "title": null, "tickSize": {"condition": {"test": "datum.value % 90 === 0", "value": -6}, "value": -3}}},
      "y": {"field": "v", "type": "quantitative", "scale": {"domain": [83.33, 83.59], "nice": false, "zero": false}, "axis": {"orient": "left", "values": [83.34,83.38,83.42,83.46,83.5,83.54,83.58], "labelExpr": "indexof([83.38,83.46,83.54], datum.value) >= 0 ? format(datum.value, '.2f') : ''", "tickSize": {"condition": {"test": "indexof([83.38,83.46,83.54], datum.value) >= 0", "value": -6}, "value": -3}, "labelPadding": 5, "title": "Rω (Ω)", "titlePadding": 8}},
      "stroke": {"field": "s", "type": "nominal", "scale": {"domain": ["xy scan","zx scan","zy scan"], "range": ["#5AB4E6","#1EBE1E","#FF1414"]}, "legend": null},
      "shape": {"field": "s", "type": "nominal", "scale": {"domain": ["xy scan","zx scan","zy scan"], "range": ["square","triangle-up","circle"]}, "legend": null},
      "size": {"field": "s", "type": "nominal", "scale": {"domain": ["xy scan","zx scan","zy scan"], "range": [42, 55, 78]}, "legend": null}
     }},
    {"mark": {"type": "point", "opacity": 0},
     "encoding": {
      "x": {"field": "t", "type": "quantitative", "scale": {"domain": [-45, 405], "nice": false, "zero": false}, "axis": {"orient": "top", "values": [0,45,90,135,180,225,270,315,360], "labels": false, "title": "Cu(6nm)/Co(2.5nm)", "titleFontSize": 22, "titlePadding": 6, "tickSize": {"condition": {"test": "datum.value % 90 === 0", "value": -6}, "value": -3}}},
      "y": {"field": "v", "type": "quantitative", "scale": {"domain": [83.33, 83.59], "nice": false, "zero": false}, "axis": {"orient": "right", "values": [83.34,83.38,83.42,83.46,83.5,83.54,83.58], "labels": false, "title": null, "tickSize": {"condition": {"test": "indexof([83.38,83.46,83.54], datum.value) >= 0", "value": -6}, "value": -3}}}
     }}
   ],
   "resolve": {"axis": {"x": "independent", "y": "independent"}}
  },
  {"width": 294, "height": 215,
   "title": {"text": "(b)", "anchor": "start", "frame": "bounds", "offset": -28, "fontSize": 23},
   "transform": [{"filter": "datum.p == 'b1'"}],
   "layer": [
    {"mark": {"type": "point", "filled": true, "fill": "white", "opacity": 1, "strokeWidth": 1.6},
     "encoding": {
      "x": {"field": "t", "type": "quantitative", "scale": {"domain": [-45, 405], "nice": false, "zero": false}, "axis": {"orient": "bottom", "values": [0,45,90,135,180,225,270,315,360], "labels": false, "title": null, "tickSize": {"condition": {"test": "datum.value % 90 === 0", "value": -6}, "value": -3}}},
      "y": {"field": "v", "type": "quantitative", "scale": {"domain": [569.18, 573.32], "nice": false, "zero": false}, "axis": {"orient": "left", "values": [569.8,570.55,571.3,572.05,572.8], "labelExpr": "indexof([569.8,571.3,572.8], datum.value) >= 0 ? format(datum.value, '.1f') : ''", "tickSize": {"condition": {"test": "indexof([569.8,571.3,572.8], datum.value) >= 0", "value": -6}, "value": -3}, "labelPadding": 12, "title": "Rω (Ω)", "titlePadding": 8}},
      "stroke": {"field": "s", "type": "nominal", "scale": {"domain": ["xy scan","zx scan","zy scan"], "range": ["#5AB4E6","#1EBE1E","#FF1414"]}, "legend": null},
      "shape": {"field": "s", "type": "nominal", "scale": {"domain": ["xy scan","zx scan","zy scan"], "range": ["square","triangle-up","circle"]}, "legend": null},
      "size": {"field": "s", "type": "nominal", "scale": {"domain": ["xy scan","zx scan","zy scan"], "range": [42, 55, 78]}, "legend": null}
     }},
    {"mark": {"type": "point", "opacity": 0},
     "encoding": {
      "x": {"field": "t", "type": "quantitative", "scale": {"domain": [-45, 405], "nice": false, "zero": false}, "axis": {"orient": "top", "values": [0,45,90,135,180,225,270,315,360], "labels": false, "title": "W(6nm)/Co(2.5nm)", "titleFontSize": 22, "titlePadding": 6, "tickSize": {"condition": {"test": "datum.value % 90 === 0", "value": -6}, "value": -3}}},
      "y": {"field": "v", "type": "quantitative", "scale": {"domain": [569.18, 573.32], "nice": false, "zero": false}, "axis": {"orient": "right", "values": [569.8,570.55,571.3,572.05,572.8], "labels": false, "title": null, "tickSize": {"condition": {"test": "indexof([569.8,571.3,572.8], datum.value) >= 0", "value": -6}, "value": -3}}}
     }}
   ],
   "resolve": {"axis": {"x": "independent", "y": "independent"}}
  },
  {"width": 294, "height": 215,
   "transform": [{"filter": "datum.p == 'a2'"}],
   "layer": [
    {"mark": {"type": "point", "filled": true, "fill": "white", "opacity": 1, "strokeWidth": 1.6},
     "encoding": {
      "x": {"field": "t", "type": "quantitative", "scale": {"domain": [-45, 405], "nice": false, "zero": false}, "axis": {"orient": "bottom", "values": [0,45,90,135,180,225,270,315,360], "labelExpr": "datum.value % 90 === 0 ? datum.label : ''", "labelPadding": 5, "title": "θ,φ (degrees)", "titlePadding": 6, "tickSize": {"condition": {"test": "datum.value % 90 === 0", "value": -6}, "value": -3}}},
      "y": {"field": "v", "type": "quantitative", "scale": {"domain": [-1.3, 1.3], "nice": false, "zero": false}, "axis": {"orient": "left", "values": [-1,-0.5,0,0.5,1], "labelExpr": "datum.value === -1 ? '-1' : datum.value === 0 ? '0' : datum.value === 1 ? '1' : ''", "tickSize": {"condition": {"test": "datum.value % 1 === 0", "value": -6}, "value": -3}, "labelPadding": 5, "title": "R2ω (mΩ)", "titlePadding": 8}},
      "stroke": {"field": "s", "type": "nominal", "scale": {"domain": ["xy scan","zx scan","zy scan"], "range": ["#5AB4E6","#1EBE1E","#FF1414"]}, "legend": {"orient": "none", "legendX": 222, "legendY": -20, "title": null, "fillColor": "white", "strokeColor": "#b4b4b4", "padding": 5, "labelFontSize": 23, "labelColor": "#111", "rowPadding": 6, "symbolStrokeWidth": 1.5, "symbolFillColor": "white", "symbolOffset": 10, "labelOffset": 14, "encode": {"symbols": {"update": {"shape": {"signal": "datum.value === 'xy scan' ? 'M-4.2,0H-1M1,0H4.2M-1,-1H1V1H-1Z' : datum.value === 'zx scan' ? 'M-3.65,0.15H-0.6M0.6,0.15H3.65M0,-1L1.1,0.9H-1.1Z' : 'M-3.07,0H-0.9M0.9,0H3.07M0.9,0A0.9,0.9,0,1,1,-0.9,0A0.9,0.9,0,1,1,0.9,0Z'"}}}}}},
      "shape": {"field": "s", "type": "nominal", "scale": {"domain": ["xy scan","zx scan","zy scan"], "range": ["square","triangle-up","circle"]}, "legend": {"orient": "none", "legendX": 222, "legendY": -20, "title": null, "fillColor": "white", "strokeColor": "#b4b4b4", "padding": 5, "labelFontSize": 23, "labelColor": "#111", "rowPadding": 6, "symbolStrokeWidth": 1.5, "symbolFillColor": "white", "symbolOffset": 10, "labelOffset": 14, "encode": {"symbols": {"update": {"shape": {"signal": "datum.value === 'xy scan' ? 'M-4.2,0H-1M1,0H4.2M-1,-1H1V1H-1Z' : datum.value === 'zx scan' ? 'M-3.65,0.15H-0.6M0.6,0.15H3.65M0,-1L1.1,0.9H-1.1Z' : 'M-3.07,0H-0.9M0.9,0H3.07M0.9,0A0.9,0.9,0,1,1,-0.9,0A0.9,0.9,0,1,1,0.9,0Z'"}}}}}},
      "size": {"field": "s", "type": "nominal", "scale": {"domain": ["xy scan","zx scan","zy scan"], "range": [42, 55, 78]}, "legend": {"orient": "none", "legendX": 222, "legendY": -20, "title": null, "fillColor": "white", "strokeColor": "#b4b4b4", "padding": 5, "labelFontSize": 23, "labelColor": "#111", "rowPadding": 6, "symbolStrokeWidth": 1.5, "symbolFillColor": "white", "symbolOffset": 10, "labelOffset": 14, "encode": {"symbols": {"update": {"shape": {"signal": "datum.value === 'xy scan' ? 'M-4.2,0H-1M1,0H4.2M-1,-1H1V1H-1Z' : datum.value === 'zx scan' ? 'M-3.65,0.15H-0.6M0.6,0.15H3.65M0,-1L1.1,0.9H-1.1Z' : 'M-3.07,0H-0.9M0.9,0H3.07M0.9,0A0.9,0.9,0,1,1,-0.9,0A0.9,0.9,0,1,1,0.9,0Z'"}}}}}}
     }},
    {"mark": {"type": "point", "opacity": 0},
     "encoding": {
      "x": {"field": "t", "type": "quantitative", "scale": {"domain": [-45, 405], "nice": false, "zero": false}, "axis": {"orient": "top", "values": [0,45,90,135,180,225,270,315,360], "labels": false, "title": null, "tickSize": {"condition": {"test": "datum.value % 90 === 0", "value": -6}, "value": -3}}},
      "y": {"field": "v", "type": "quantitative", "scale": {"domain": [-1.3, 1.3], "nice": false, "zero": false}, "axis": {"orient": "right", "values": [-1,-0.5,0,0.5,1], "labels": false, "title": null, "tickSize": {"condition": {"test": "datum.value % 1 === 0", "value": -6}, "value": -3}}}
     }}
   ],
   "resolve": {"axis": {"x": "independent", "y": "independent"}}
  },
  {"width": 294, "height": 215,
   "transform": [{"filter": "datum.p == 'b2'"}],
   "layer": [
    {"mark": {"type": "point", "filled": true, "fill": "white", "opacity": 1, "strokeWidth": 1.6},
     "encoding": {
      "x": {"field": "t", "type": "quantitative", "scale": {"domain": [-45, 405], "nice": false, "zero": false}, "axis": {"orient": "bottom", "values": [0,45,90,135,180,225,270,315,360], "labelExpr": "datum.value % 90 === 0 ? datum.label : ''", "labelPadding": 5, "title": "θ,φ (degrees)", "titlePadding": 6, "tickSize": {"condition": {"test": "datum.value % 90 === 0", "value": -6}, "value": -3}}},
      "y": {"field": "v", "type": "quantitative", "scale": {"domain": [-18, 18], "nice": false, "zero": false}, "axis": {"orient": "left", "values": [-14,-7,0,7,14], "labelExpr": "datum.value === -14 ? '-14' : datum.value === 0 ? '0' : datum.value === 14 ? '14' : ''", "tickSize": {"condition": {"test": "datum.value % 14 === 0", "value": -6}, "value": -3}, "labelPadding": 4, "title": "R2ω (mΩ)", "titlePadding": 8}},
      "stroke": {"field": "s", "type": "nominal", "scale": {"domain": ["xy scan","zx scan","zy scan"], "range": ["#5AB4E6","#1EBE1E","#FF1414"]}, "legend": null},
      "shape": {"field": "s", "type": "nominal", "scale": {"domain": ["xy scan","zx scan","zy scan"], "range": ["square","triangle-up","circle"]}, "legend": null},
      "size": {"field": "s", "type": "nominal", "scale": {"domain": ["xy scan","zx scan","zy scan"], "range": [42, 55, 78]}, "legend": null}
     }},
    {"mark": {"type": "point", "opacity": 0},
     "encoding": {
      "x": {"field": "t", "type": "quantitative", "scale": {"domain": [-45, 405], "nice": false, "zero": false}, "axis": {"orient": "top", "values": [0,45,90,135,180,225,270,315,360], "labels": false, "title": null, "tickSize": {"condition": {"test": "datum.value % 90 === 0", "value": -6}, "value": -3}}},
      "y": {"field": "v", "type": "quantitative", "scale": {"domain": [-18, 18], "nice": false, "zero": false}, "axis": {"orient": "right", "values": [-14,-7,0,7,14], "labels": false, "title": null, "tickSize": {"condition": {"test": "datum.value % 14 === 0", "value": -6}, "value": -3}}}
     }}
   ],
   "resolve": {"axis": {"x": "independent", "y": "independent"}}
  }
],
"config": {
 "font": "Liberation Sans",
 "view": {"stroke": "#1a1a1a", "strokeWidth": 1.4},
 "axis": {"labelFont": "Liberation Sans", "titleFont": "Liberation Sans", "labelFontSize": 21, "titleFontSize": 25, "titleFontWeight": "normal", "labelColor": "#111", "titleColor": "#111", "tickColor": "#222", "tickWidth": 1.2, "grid": false, "domain": false},
 "title": {"font": "Liberation Sans", "fontSize": 23, "fontWeight": "normal", "color": "#111"},
 "legend": {"labelFont": "Liberation Sans"}
}
}
